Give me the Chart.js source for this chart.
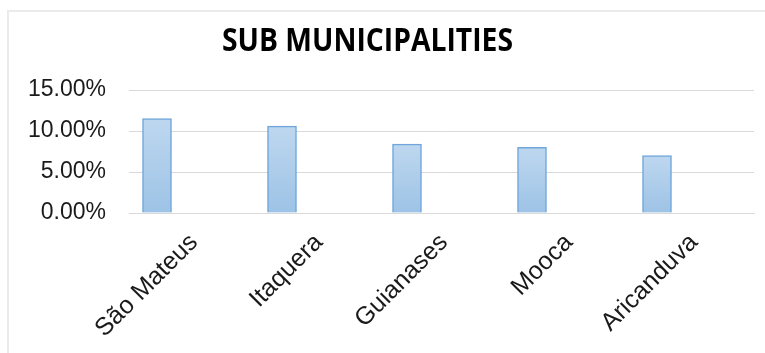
<!DOCTYPE html>
<html lang="en">
<head>
    <meta charset="UTF-8">
    <title>Sub Municipalities</title>
    <script src="https://cdn.jsdelivr.net/npm/chart.js"></script>
    <style>
        body { margin: 0; background: #fff; }
        .marco { position: absolute; left: 7px; top: 10px; width: 800px; height: 400px;
                 border-left: 2px solid #ebebeb; border-top: 2px solid #ebebeb; }
        .caja { position: absolute; left: 0; top: 0; width: 765px; height: 353px; }
    </style>
</head>
<body>
    <div class="marco"></div>
    <div class="caja"><canvas id="grafico" width="765" height="353"></canvas></div>

    <script>
        // datos
        const titulo = 'SUB MUNICIPALITIES';
        const subprefeituras = ["São Mateus", "Itaquera", "Guianases", "Mooca", "Aricanduva"];
        const porcentajes = [11.5, 10.6, 8.4, 8.0, 7.0];
        const ticksY = [0, 5, 10, 15];

        // degradado por barra: claro arriba, más oscuro abajo
        function relleno(c) {
            const chart = c.chart;
            if (!chart.chartArea || !c.raw) return '#aecdeb';
            const y = chart.scales.y;
            const g = chart.ctx.createLinearGradient(0, y.getPixelForValue(c.raw.y), 0, y.getPixelForValue(0));
            g.addColorStop(0, '#bed7ef');
            g.addColorStop(1, '#9dc3e6');
            return g;
        }

        // título en negrita, algo estrecho
        const tituloPlugin = {
            id: 'tituloEstrecho',
            afterDraw(chart) {
                const c = chart.ctx;
                c.save();
                c.font = 'bold 32px "Open Sans"';
                c.fillStyle = '#000';
                c.textAlign = 'center';
                c.textBaseline = 'middle';
                const ancho = c.measureText(titulo).width;
                c.translate(367.5, 42);
                c.scale(291 / ancho, 1);
                c.fillText(titulo, 0, 0);
                c.restore();
            }
        };

        let ctx = document.getElementById('grafico').getContext('2d');
        let chart = new Chart(ctx, {
            type: 'bar',
            data: {
                datasets: [{
                    data: porcentajes.map((v, i) => ({ x: i, y: v })),
                    backgroundColor: relleno,
                    borderColor: '#70a6dc',
                    borderWidth: 1.5,
                    barThickness: 29
                }]
            },
            plugins: [tituloPlugin],
            options: {
                responsive: false,
                animation: false,
                layout: { padding: { top: 90, left: 0, right: 11, bottom: 0 } },
                plugins: {
                    legend: { display: false },
                    tooltip: { enabled: false },
                    title: { display: false }
                },
                scales: {
                    x: {
                        type: 'linear',
                        offset: false,
                        min: -0.224, max: 4.776,
                        grid: { display: false, offset: false },
                        border: { display: true, color: '#d9d9d9', width: 1 },
                        afterBuildTicks: s => { s.ticks = subprefeituras.map((_, i) => ({ value: i })); },
                        ticks: {
                            color: '#1a1a1a',
                            font: { family: 'Liberation Sans', size: 25 },
                            autoSkip: false,
                            minRotation: 45, maxRotation: 45,
                            labelOffset: 37,
                            padding: 7,
                            callback: (v, i) => subprefeituras[i]
                        },
                        afterFit: s => { s.height = 140; }
                    },
                    y: {
                        min: 0, max: 15,
                        border: { display: false },
                        grid: { color: '#d9d9d9', drawTicks: false },
                        afterBuildTicks: s => { s.ticks = ticksY.map(v => ({ value: v })); },
                        ticks: {
                            color: '#1a1a1a',
                            font: { family: 'Liberation Sans', size: 23 },
                            padding: 23,
                            callback: v => v.toFixed(2) + '%'
                        },
                        afterFit: s => { s.width = 129; }
                    }
                }
            }
        });
    </script>
</body>
</html>
